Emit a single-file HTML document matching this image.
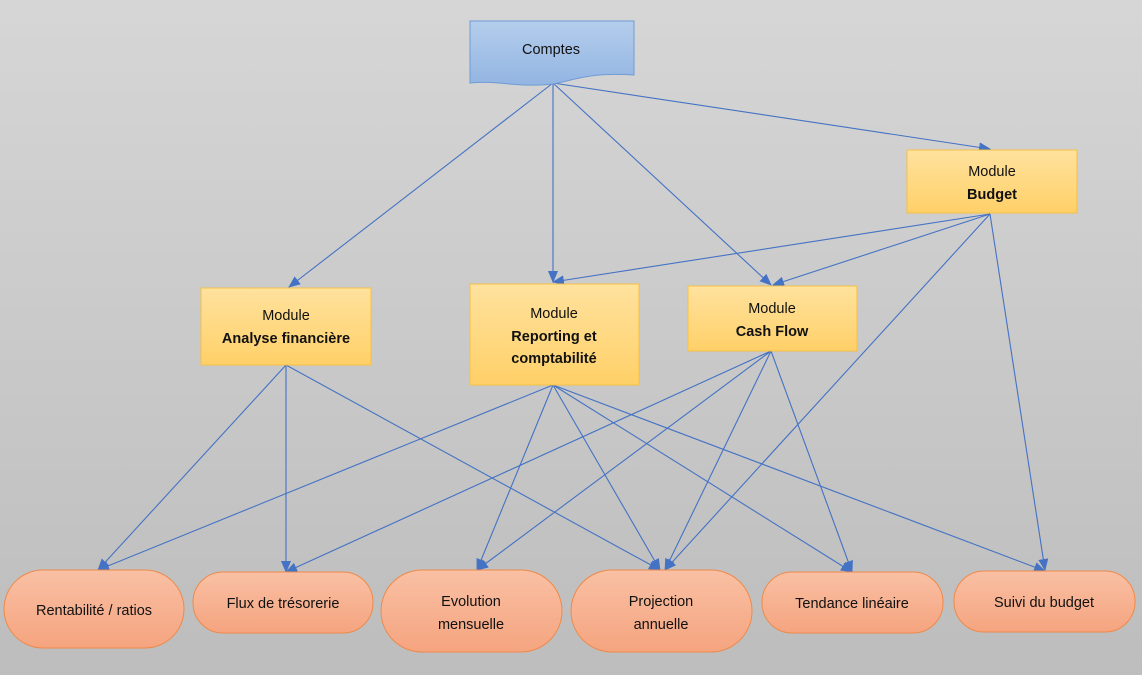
<!DOCTYPE html>
<html><head><meta charset="utf-8"><style>
html,body{margin:0;padding:0;width:1142px;height:675px;overflow:hidden}
svg{display:block}
text{font-family:"Liberation Sans",sans-serif;font-size:14.5px;fill:#111}
.b{font-weight:bold}
</style></head><body>
<svg width="1142" height="675" viewBox="0 0 1142 675" xmlns="http://www.w3.org/2000/svg">
<defs>
<linearGradient id="bg" x1="0" y1="0" x2="0" y2="1"><stop offset="0" stop-color="#d6d6d6"/><stop offset="1" stop-color="#bdbdbd"/></linearGradient>
<linearGradient id="bl" x1="0" y1="0" x2="0" y2="1"><stop offset="0" stop-color="#b4cdec"/><stop offset="1" stop-color="#93b5e2"/></linearGradient>
<linearGradient id="ye" x1="0" y1="0" x2="0" y2="1"><stop offset="0" stop-color="#ffe29e"/><stop offset="1" stop-color="#ffd068"/></linearGradient>
<linearGradient id="or" x1="0" y1="0" x2="0" y2="1"><stop offset="0" stop-color="#f9c0a4"/><stop offset="1" stop-color="#f5a47f"/></linearGradient>
<marker id="a" markerWidth="12" markerHeight="10" refX="11" refY="5" orient="auto" markerUnits="userSpaceOnUse"><path d="M0,0 L12,5 L0,10 z" fill="#4472c4"/></marker>
</defs>
<rect width="1142" height="675" fill="url(#bg)"/>
<g stroke="#4472c4" stroke-width="1.1" fill="none" marker-end="url(#a)">
<line x1="553" y1="83" x2="289" y2="287"/>
<line x1="553" y1="83" x2="553" y2="282"/>
<line x1="553" y1="83" x2="771" y2="285"/>
<line x1="553" y1="83" x2="990" y2="149"/>
<line x1="990" y1="214" x2="553" y2="282"/>
<line x1="990" y1="214" x2="773" y2="285"/>
<line x1="990" y1="214" x2="665" y2="570"/>
<line x1="990" y1="214" x2="1045" y2="570"/>
<line x1="286" y1="365" x2="98" y2="570"/>
<line x1="286" y1="365" x2="286" y2="572"/>
<line x1="286" y1="365" x2="660" y2="570"/>
<line x1="553" y1="385" x2="98" y2="570"/>
<line x1="553" y1="385" x2="477" y2="570"/>
<line x1="553" y1="385" x2="660" y2="570"/>
<line x1="553" y1="385" x2="852" y2="572"/>
<line x1="553" y1="385" x2="1045" y2="571"/>
<line x1="771" y1="351" x2="286" y2="572"/>
<line x1="771" y1="351" x2="477" y2="570"/>
<line x1="771" y1="351" x2="665" y2="570"/>
<line x1="771" y1="351" x2="852" y2="572"/>
</g>
<path d="M470,21 H634 V75 C590,72 575,80 553,84 C520,88 495,80 470,83 Z" fill="url(#bl)" stroke="#6f9bd6"/>
<text x="551" y="54" text-anchor="middle">Comptes</text>
<g stroke="#f5c043" fill="url(#ye)">
<rect x="907" y="150" width="170" height="63"/>
<rect x="201" y="288" width="170" height="77"/>
<rect x="470" y="284" width="169" height="101"/>
<rect x="688" y="286" width="169" height="65"/>
</g>
<text x="992" y="176" text-anchor="middle">Module</text>
<text x="992" y="199" text-anchor="middle" class="b">Budget</text>
<text x="286" y="320" text-anchor="middle">Module</text>
<text x="286" y="343" text-anchor="middle" class="b">Analyse financière</text>
<text x="554" y="318" text-anchor="middle">Module</text>
<text x="554" y="341" text-anchor="middle" class="b">Reporting et</text>
<text x="554" y="363" text-anchor="middle" class="b">comptabilité</text>
<text x="772" y="313" text-anchor="middle">Module</text>
<text x="772" y="336" text-anchor="middle" class="b">Cash Flow</text>
<g stroke="#ee8a4a" fill="url(#or)">
<rect x="4" y="570" width="180" height="78" rx="39"/>
<rect x="193" y="572" width="180" height="61" rx="30"/>
<rect x="381" y="570" width="181" height="82" rx="41"/>
<rect x="571" y="570" width="181" height="82" rx="41"/>
<rect x="762" y="572" width="181" height="61" rx="30"/>
<rect x="954" y="571" width="181" height="61" rx="30"/>
</g>
<text x="94" y="615" text-anchor="middle">Rentabilité / ratios</text>
<text x="283" y="608" text-anchor="middle">Flux de trésorerie</text>
<text x="471" y="606" text-anchor="middle">Evolution</text>
<text x="471" y="629" text-anchor="middle">mensuelle</text>
<text x="661" y="606" text-anchor="middle">Projection</text>
<text x="661" y="629" text-anchor="middle">annuelle</text>
<text x="852" y="608" text-anchor="middle">Tendance linéaire</text>
<text x="1044" y="607" text-anchor="middle">Suivi du budget</text>
</svg>
</body></html>
